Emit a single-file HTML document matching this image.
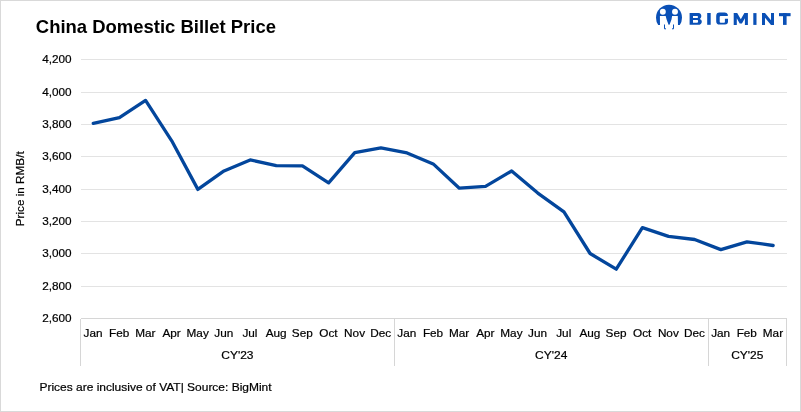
<!DOCTYPE html>
<html><head><meta charset="utf-8"><style>
html,body{margin:0;padding:0;background:#fff;}
body{width:801px;height:412px;overflow:hidden;position:relative;}
svg{position:absolute;left:0;top:0;will-change:transform;}
text{font-family:"Liberation Sans",sans-serif;fill:#000;stroke:#000;stroke-width:0.2px;}
</style></head><body>
<svg width="801" height="412" viewBox="0 0 801 412">
<rect x="0" y="0" width="801" height="412" fill="#fff"/>
<rect x="0.5" y="0.5" width="800" height="411" fill="none" stroke="#d9d9d9" stroke-width="1"/>

<rect x="81" y="59" width="706" height="1" fill="#e3e3e3"/>
<rect x="81" y="92" width="706" height="1" fill="#e3e3e3"/>
<rect x="81" y="124" width="706" height="1" fill="#e3e3e3"/>
<rect x="81" y="156" width="706" height="1" fill="#e3e3e3"/>
<rect x="81" y="189" width="706" height="1" fill="#e3e3e3"/>
<rect x="81" y="221" width="706" height="1" fill="#e3e3e3"/>
<rect x="81" y="253" width="706" height="1" fill="#e3e3e3"/>
<rect x="81" y="286" width="706" height="1" fill="#e3e3e3"/>
<rect x="81" y="318" width="706" height="1" fill="#d6d6d6"/>
<rect x="80" y="319" width="1" height="47" fill="#d6d6d6"/>
<rect x="394" y="318" width="1" height="48" fill="#d6d6d6"/>
<rect x="708" y="318" width="1" height="48" fill="#d6d6d6"/>
<rect x="786" y="318" width="1" height="48" fill="#d6d6d6"/>
<text x="0" y="0" font-size="11" text-anchor="end" transform="translate(71.60,63.20) scale(1.07,1)" >4,200</text>
<text x="0" y="0" font-size="11" text-anchor="end" transform="translate(71.60,96.20) scale(1.07,1)" >4,000</text>
<text x="0" y="0" font-size="11" text-anchor="end" transform="translate(71.60,128.20) scale(1.07,1)" >3,800</text>
<text x="0" y="0" font-size="11" text-anchor="end" transform="translate(71.60,160.20) scale(1.07,1)" >3,600</text>
<text x="0" y="0" font-size="11" text-anchor="end" transform="translate(71.60,193.20) scale(1.07,1)" >3,400</text>
<text x="0" y="0" font-size="11" text-anchor="end" transform="translate(71.60,225.20) scale(1.07,1)" >3,200</text>
<text x="0" y="0" font-size="11" text-anchor="end" transform="translate(71.60,257.20) scale(1.07,1)" >3,000</text>
<text x="0" y="0" font-size="11" text-anchor="end" transform="translate(71.60,290.20) scale(1.07,1)" >2,800</text>
<text x="0" y="0" font-size="11" text-anchor="end" transform="translate(71.60,322.20) scale(1.07,1)" >2,600</text>
<text x="0" y="0" font-size="11" text-anchor="middle" transform="translate(93.07,336.80) scale(1.07,1)" >Jan</text>
<text x="0" y="0" font-size="11" text-anchor="middle" transform="translate(119.22,336.80) scale(1.07,1)" >Feb</text>
<text x="0" y="0" font-size="11" text-anchor="middle" transform="translate(145.37,336.80) scale(1.07,1)" >Mar</text>
<text x="0" y="0" font-size="11" text-anchor="middle" transform="translate(171.52,336.80) scale(1.07,1)" >Apr</text>
<text x="0" y="0" font-size="11" text-anchor="middle" transform="translate(197.67,336.80) scale(1.07,1)" >May</text>
<text x="0" y="0" font-size="11" text-anchor="middle" transform="translate(223.81,336.80) scale(1.07,1)" >Jun</text>
<text x="0" y="0" font-size="11" text-anchor="middle" transform="translate(249.96,336.80) scale(1.07,1)" >Jul</text>
<text x="0" y="0" font-size="11" text-anchor="middle" transform="translate(276.11,336.80) scale(1.07,1)" >Aug</text>
<text x="0" y="0" font-size="11" text-anchor="middle" transform="translate(302.26,336.80) scale(1.07,1)" >Sep</text>
<text x="0" y="0" font-size="11" text-anchor="middle" transform="translate(328.41,336.80) scale(1.07,1)" >Oct</text>
<text x="0" y="0" font-size="11" text-anchor="middle" transform="translate(354.56,336.80) scale(1.07,1)" >Nov</text>
<text x="0" y="0" font-size="11" text-anchor="middle" transform="translate(380.70,336.80) scale(1.07,1)" >Dec</text>
<text x="0" y="0" font-size="11" text-anchor="middle" transform="translate(406.85,336.80) scale(1.07,1)" >Jan</text>
<text x="0" y="0" font-size="11" text-anchor="middle" transform="translate(433.00,336.80) scale(1.07,1)" >Feb</text>
<text x="0" y="0" font-size="11" text-anchor="middle" transform="translate(459.15,336.80) scale(1.07,1)" >Mar</text>
<text x="0" y="0" font-size="11" text-anchor="middle" transform="translate(485.30,336.80) scale(1.07,1)" >Apr</text>
<text x="0" y="0" font-size="11" text-anchor="middle" transform="translate(511.44,336.80) scale(1.07,1)" >May</text>
<text x="0" y="0" font-size="11" text-anchor="middle" transform="translate(537.59,336.80) scale(1.07,1)" >Jun</text>
<text x="0" y="0" font-size="11" text-anchor="middle" transform="translate(563.74,336.80) scale(1.07,1)" >Jul</text>
<text x="0" y="0" font-size="11" text-anchor="middle" transform="translate(589.89,336.80) scale(1.07,1)" >Aug</text>
<text x="0" y="0" font-size="11" text-anchor="middle" transform="translate(616.04,336.80) scale(1.07,1)" >Sep</text>
<text x="0" y="0" font-size="11" text-anchor="middle" transform="translate(642.19,336.80) scale(1.07,1)" >Oct</text>
<text x="0" y="0" font-size="11" text-anchor="middle" transform="translate(668.33,336.80) scale(1.07,1)" >Nov</text>
<text x="0" y="0" font-size="11" text-anchor="middle" transform="translate(694.48,336.80) scale(1.07,1)" >Dec</text>
<text x="0" y="0" font-size="11" text-anchor="middle" transform="translate(720.63,336.80) scale(1.07,1)" >Jan</text>
<text x="0" y="0" font-size="11" text-anchor="middle" transform="translate(746.78,336.80) scale(1.07,1)" >Feb</text>
<text x="0" y="0" font-size="11" text-anchor="middle" transform="translate(772.93,336.80) scale(1.07,1)" >Mar</text>
<text x="0" y="0" font-size="11" text-anchor="middle" transform="translate(237.39,358.70) scale(1.09,1)" >CY'23</text>
<text x="0" y="0" font-size="11" text-anchor="middle" transform="translate(551.17,358.70) scale(1.09,1)" >CY'24</text>
<text x="0" y="0" font-size="11" text-anchor="middle" transform="translate(747.28,358.70) scale(1.09,1)" >CY'25</text>
<text x="0" y="0" font-size="11.5" text-anchor="middle" transform="translate(23.50,188.80) rotate(-90) scale(1.02,1)" >Price in RMB/t</text>
<text x="0" y="0" font-size="17.5" text-anchor="start" transform="translate(35.80,32.50) scale(1.056,1)" font-weight="bold" style="fill:#000;stroke:none">China Domestic Billet Price</text>
<text x="0" y="0" font-size="11" text-anchor="start" transform="translate(39.50,390.70) scale(1.089,1)" >Prices are inclusive of VAT| Source: BigMint</text>
<polyline points="93.27,123.30 119.42,117.60 145.57,100.40 171.72,140.80 197.87,189.40 224.01,170.90 250.16,159.90 276.31,165.60 302.46,165.80 328.61,182.90 354.76,152.60 380.90,147.80 407.05,152.90 433.20,163.90 459.35,188.20 485.50,186.30 511.64,171.00 537.79,193.10 563.94,211.80 590.09,253.50 616.24,269.20 642.39,227.60 668.53,236.40 694.68,239.50 720.83,249.60 746.98,241.80 773.13,245.50" fill="none" stroke="#03469C" stroke-width="3.3" stroke-linejoin="round" stroke-linecap="round"/>
<defs><clipPath id="lc"><rect x="650" y="0" width="40" height="25"/></clipPath></defs>
<g>
<circle cx="669" cy="17.7" r="13" fill="#0A50B6" clip-path="url(#lc)"/>
<polygon points="659.9,15.9 665.7,15.9 666.6,19.5 668.3,24 669,25.2 669.8,24 671.5,19.5 672.1,15.9 677.8,15.9 678,26 660,26" fill="#fff"/>
<circle cx="662.85" cy="11.7" r="2.95" fill="#fff"/>
<circle cx="675" cy="11.7" r="2.95" fill="#fff"/>
<path d="M664.5,24.5 V28.8 H666" stroke="#0A50B6" stroke-width="1" fill="none"/>
<path d="M673.5,24.5 V28.8 H672" stroke="#0A50B6" stroke-width="1" fill="none"/>
</g>
<g fill="#0A50B6">
<path fill-rule="evenodd" d="M689.6,13 H698.3 C700.6,13 701.3,14.6 701.3,16 C701.3,17.4 700.6,18.3 699.7,18.9 C701,19.3 701.8,20.4 701.8,21.7 C701.8,23.6 700.4,24.8 698,24.8 H689.6 Z M693,16.1 H697.3 Q698,16.1 698,17.1 Q698,18.1 697.3,18.1 H693 Z M693,19.9 H697.4 Q698.1,19.9 698.1,21.3 Q698.1,22.7 697.4,22.7 H693 Z"/>
<rect x="707.2" y="13" width="3.5" height="11.8"/>
<path fill-rule="evenodd" d="M727.8,16.1 L727.8,14.6 Q727.0,12.6 724.8,12.6 L719.6,12.6 Q716.2,12.6 716.2,16 L716.2,21.2 Q716.2,24.6 719.6,24.6 L725.0,24.6 Q728,24.6 728,21.6 L728,18.7 L724.9,18.7 L724.9,21.9 Q724.9,22.7 724.1,22.7 L720.7,22.7 Q719.7,22.7 719.7,21.7 L719.7,17.1 Q719.7,16.1 720.7,16.1 Z"/>
<polygon points="733.7,24.9 733.7,13.1 737.2,13.1 740.8,19.3 744.4,13.1 747.9,13.1 747.9,24.9 744.9,24.9 744.9,18.3 741.9,23.6 739.7,23.6 736.8,18.3 736.8,24.9"/>
<rect x="753.3" y="13.1" width="3.2" height="11.8"/>
<polygon points="762,24.9 762,13.1 765,13.1 771,20.3 771,13.1 774,13.1 774,24.9 771,24.9 765,17.7 765,24.9"/>
<rect x="779" y="13.1" width="11.6" height="3.1"/>
<rect x="783" y="13.1" width="3.6" height="11.8"/>
</g>

</svg></body></html>
